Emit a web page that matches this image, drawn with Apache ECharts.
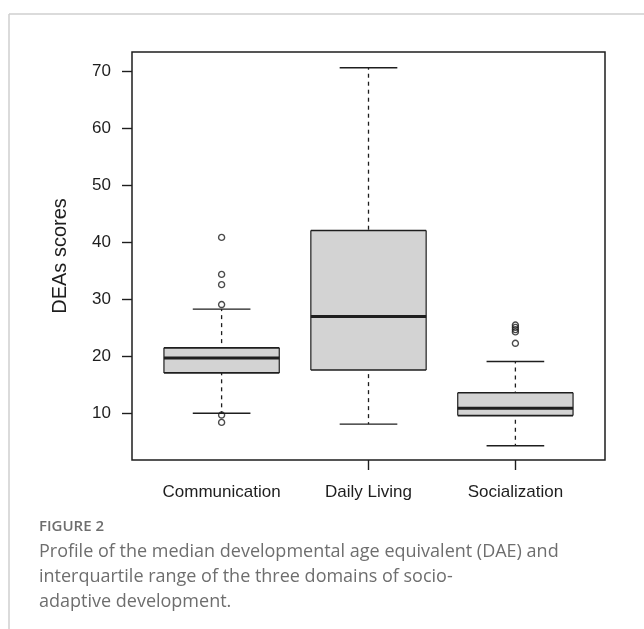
<!DOCTYPE html>
<html>
<head>
<meta charset="utf-8">
<script src="https://cdn.jsdelivr.net/npm/echarts@6/dist/echarts.min.js"></script>
<style>
html,body{margin:0;padding:0;background:#fff;}
#chart{width:644px;height:629px;}
</style>
</head>
<body>
<div id="chart"></div>
<script>
const categories = ['Communication', 'Daily Living', 'Socialization'];
const whiskerLow = [10.0, 8.1, 4.3];
const quartile1 = [17.1, 17.6, 9.6];
const median = [19.7, 27.0, 10.9];
const quartile3 = [21.5, 42.1, 13.6];
const whiskerHigh = [28.3, 70.7, 19.1];
const outliersCommunication = [40.9, 34.4, 32.6, 29.1, 9.7, 8.4];
const outliersDailyLiving = [];
const outliersSocialization = [25.5, 25.1, 24.7, 24.3, 22.3];
const yTicks = [10, 20, 30, 40, 50, 60, 70];
const xTicks = [2, 3];

const boxData = categories.map((c, i) => [i + 1, whiskerLow[i], quartile1[i], median[i], quartile3[i], whiskerHigh[i]]);
const outlierData = []
  .concat(outliersCommunication.map(v => [1, v]))
  .concat(outliersDailyLiving.map(v => [2, v]))
  .concat(outliersSocialization.map(v => [3, v]));

const FONT = '"Liberation Sans", Arial, sans-serif';
const INK = '#1e1e1e';

function renderBox(params, api) {
  const x = api.value(0);
  const lo = api.coord([x, api.value(1)]);
  const q1p = api.coord([x, api.value(2)]);
  const md = api.coord([x, api.value(3)]);
  const q3p = api.coord([x, api.value(4)]);
  const hi = api.coord([x, api.value(5)]);
  const bw = api.size([0.785, 0])[0];
  const cw = bw / 2;
  const cx = md[0];
  const l = cx - bw / 2, r = cx + bw / 2;
  const dash = {stroke: INK, lineWidth: 1.3, lineDash: [4, 4], lineDashOffset: 2};
  const solid = {stroke: INK, lineWidth: 1.4};
  return {
    type: 'group',
    children: [
      {type: 'rect', shape: {x: l, y: q3p[1], width: bw, height: q1p[1] - q3p[1]}, style: {fill: '#d3d3d3'}},
      {type: 'line', shape: {x1: cx, y1: hi[1], x2: cx, y2: q3p[1]}, style: dash},
      {type: 'line', shape: {x1: cx, y1: lo[1], x2: cx, y2: q1p[1]}, style: dash},
      {type: 'line', shape: {x1: cx - cw / 2, y1: hi[1], x2: cx + cw / 2, y2: hi[1]}, style: solid},
      {type: 'line', shape: {x1: cx - cw / 2, y1: lo[1], x2: cx + cw / 2, y2: lo[1]}, style: solid},
      {type: 'line', shape: {x1: l, y1: q3p[1], x2: r, y2: q3p[1]}, style: {stroke: INK, lineWidth: 1.6}},
      {type: 'line', shape: {x1: l, y1: q1p[1], x2: r, y2: q1p[1]}, style: {stroke: INK, lineWidth: 1.6}},
      {type: 'line', shape: {x1: l, y1: q3p[1], x2: l, y2: q1p[1]}, style: {stroke: INK, lineWidth: 1.2}},
      {type: 'line', shape: {x1: r, y1: q3p[1], x2: r, y2: q1p[1]}, style: {stroke: INK, lineWidth: 1.2}},
      {type: 'line', shape: {x1: l, y1: md[1], x2: r, y2: md[1]}, style: {stroke: INK, lineWidth: 3}}
    ]
  };
}

const chart = echarts.init(document.getElementById('chart'), null, {renderer: 'canvas'});
chart.setOption({
  backgroundColor: '#fff',
  animation: false,
  grid: {left: 132, top: 52, width: 473, height: 408, show: true, borderColor: INK, borderWidth: 1.5, backgroundColor: 'transparent'},
  xAxis: {
    type: 'value', min: 0.39, max: 3.61,
    axisLine: {show: false},
    splitLine: {show: false},
    axisTick: {show: true, customValues: xTicks, length: 10, lineStyle: {color: INK, width: 1.4}},
    axisLabel: {customValues: [1, 2, 3], formatter: v => categories[Math.round(v) - 1], fontSize: 17, color: INK, fontFamily: FONT, margin: 24}
  },
  yAxis: {
    type: 'value', min: 1.8, max: 73.46,
    name: 'DEAs scores', nameLocation: 'middle', nameGap: 62, nameRotate: 90,
    nameTextStyle: {fontSize: 20, color: INK, fontFamily: FONT},
    axisLine: {show: false},
    splitLine: {show: false},
    axisTick: {show: true, customValues: yTicks, length: 10, lineStyle: {color: INK, width: 1.4}},
    axisLabel: {customValues: yTicks, fontSize: 17, color: INK, fontFamily: FONT, margin: 21}
  },
  series: [
    {type: 'custom', renderItem: renderBox, data: boxData, encode: {x: 0, y: [1, 2, 3, 4, 5]}, clip: false},
    {type: 'scatter', data: outlierData, symbol: 'circle', symbolSize: 6,
     itemStyle: {color: 'rgba(255,255,255,0)', borderColor: INK, borderWidth: 1.4}}
  ],
  graphic: [
    {type: 'line', shape: {x1: 9, y1: 14, x2: 644, y2: 14}, style: {stroke: '#cfcfcf', lineWidth: 1.5}},
    {type: 'line', shape: {x1: 9, y1: 14, x2: 9, y2: 629}, style: {stroke: '#cfcfcf', lineWidth: 1.5}},
    {type: 'text', left: 39, top: 519, style: {text: 'FIGURE 2', fill: '#6e6e6e', font: '600 15px "Open Sans", sans-serif'}},
    {type: 'text', left: 39, top: 539, style: {text: 'Profile of the median developmental age equivalent (DAE) and\ninterquartile range of the three domains of socio-\nadaptive development.', fill: '#6e6e6e', font: '18px "Open Sans", sans-serif', lineHeight: 25}}
  ]
});
</script>
</body>
</html>
